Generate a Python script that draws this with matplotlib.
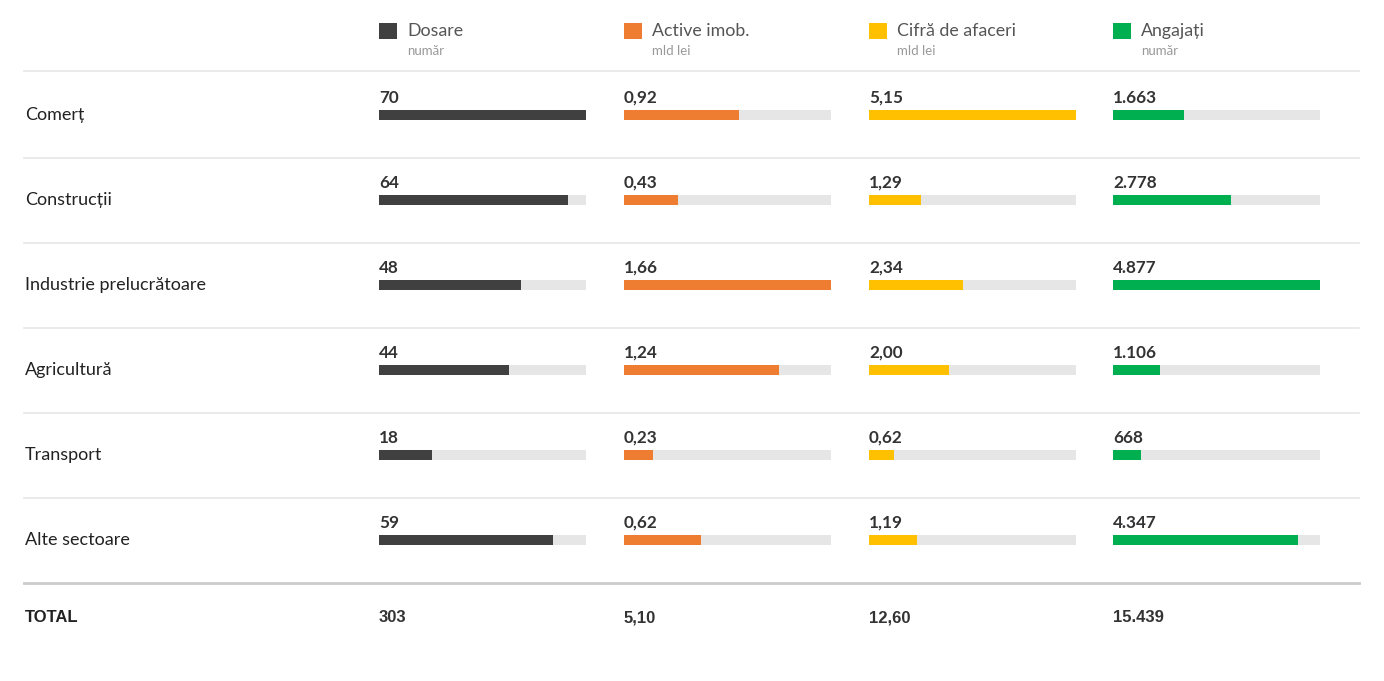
import matplotlib
matplotlib.use("Agg")
import matplotlib.pyplot as plt
from matplotlib.transforms import blended_transform_factory
from matplotlib.lines import Line2D

plt.rcParams['font.family'] = ['Lato', 'DejaVu Sans']

categories = ["Comerț", "Construcții", "Industrie prelucrătoare", "Agricultură", "Transport", "Alte sectoare"]
series_names = ["Dosare", "Active imob.", "Cifră de afaceri", "Angajați"]
series_units = ["număr", "mld lei", "mld lei", "număr"]
dosare = [70, 64, 48, 44, 18, 59]
active = [0.92, 0.43, 1.66, 1.24, 0.23, 0.62]
cifra = [5.15, 1.29, 2.34, 2.00, 0.62, 1.19]
angajati = [1663, 2778, 4877, 1106, 668, 4347]
value_labels = [
    ["70", "64", "48", "44", "18", "59"],
    ["0,92", "0,43", "1,66", "1,24", "0,23", "0,62"],
    ["5,15", "1,29", "2,34", "2,00", "0,62", "1,19"],
    ["1.663", "2.778", "4.877", "1.106", "668", "4.347"],
]
total_label = "TOTAL"
totals = ["303", "5,10", "12,60", "15.439"]

colors = ["#404040", "#ef7d31", "#ffc000", "#00b050"]
track_color = "#e6e6e6"

W, H = 1384, 681
fig = plt.figure(figsize=(W / 100, H / 100), dpi=100)
fig.patch.set_facecolor("white")

def fx(px):
    return px / W

def fy(py):
    return 1 - py / H

col_left = [379, 624, 869, 1113]
col_width = 207
top_px, bot_px = 72.5, 582.5
n = len(categories)
series = [dosare, active, cifra, angajati]
total_font = ['Liberation Sans', 'DejaVu Sans']

axes = []
for j, (vals, c) in enumerate(zip(series, colors)):
    ax = fig.add_axes([fx(col_left[j]), fy(bot_px), fx(col_width), (bot_px - top_px) / H])
    vmax = max(vals)
    ypos = list(range(n))
    ax.barh(ypos, [vmax] * n, height=10 / 85, color=track_color, linewidth=0)
    ax.barh(ypos, vals, height=10 / 85, color=c, linewidth=0)
    ax.set_xlim(0, vmax)
    ax.set_ylim(n - 0.5, -0.5)
    ax.axis("off")
    for i in range(n):
        ax.text(0, i - 12 / 85, value_labels[j][i], ha="left", va="baseline",
                fontsize=12.3, fontweight="bold", color="#333333")
    axes.append(ax)

    # header
    fig.patches.append(plt.Rectangle((fx(col_left[j]), fy(39)), fx(18), 16 / H,
                                     transform=fig.transFigure, color=c, linewidth=0))
    fig.text(fx(col_left[j] + 28), fy(31), series_names[j], ha="left", va="center",
             fontsize=12.8, color="#555555")
    fig.text(fx(col_left[j] + 28), fy(51), series_units[j], ha="left", va="center",
             fontsize=9.5, color="#999999")
    fig.text(fx(col_left[j]), fy(622.5), totals[j], ha="left", va="baseline",
             fontsize=12, fontweight="bold", color="#333333", family=total_font)

tr = blended_transform_factory(fig.transFigure, axes[0].transData)
for i, cat in enumerate(categories):
    axes[0].text(fx(25), i, cat, transform=tr, ha="left", va="center",
                 fontsize=13, color="#222222")

fig.text(fx(25), fy(622.5), total_label, ha="left", va="baseline",
         fontsize=12, fontweight="bold", color="#222222", family=total_font)

for py in [71, 158, 243, 328, 413, 498]:
    fig.add_artist(Line2D([fx(24), fx(1359)], [fy(py), fy(py)], color="#e6e6e6", linewidth=1.2))
fig.add_artist(Line2D([fx(24), fx(1359)], [fy(583), fy(583)], color="#cccccc", linewidth=2))

fig.savefig("out.png", dpi=100, facecolor="white")
